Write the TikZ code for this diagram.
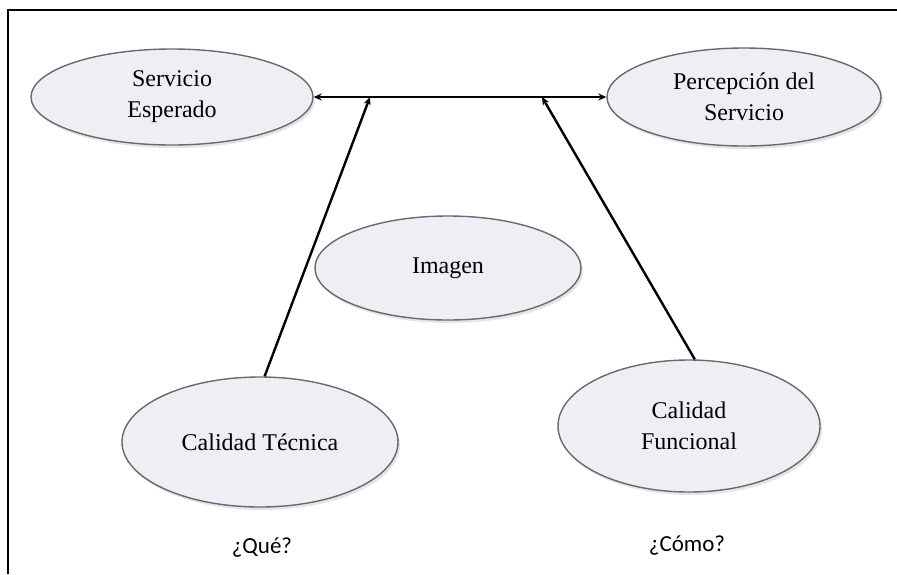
\documentclass[tikz,border=0pt]{standalone}
\usepackage{fontspec}
\setmainfont{Liberation Serif}
\newfontfamily\calibrifont{Carlito}
\usetikzlibrary{arrows.meta,shadows,shapes.geometric}
\definecolor{ellfill}{RGB}{238,239,244}
\definecolor{ellline}{RGB}{105,105,110}
\begin{document}
\begin{tikzpicture}[x=1pt,y=-1pt,
  oval/.style={ellipse,draw=ellline,line width=1.4pt,fill=ellfill,inner sep=0pt,
    align=center,font=\fontsize{24}{31}\selectfont,
    drop shadow={opacity=0.2,shadow xshift=2pt,shadow yshift=-3pt}},
  conn/.style={line width=2.4pt,black},
  tip/.style={-{Stealth[length=8pt,width=7pt]}},
  qlabel/.style={font=\calibrifont\fontsize{23}{27}\selectfont,inner sep=0pt}]
\useasboundingbox (0,0) rectangle (897,574);
\fill[white] (0,0) rectangle (897,574);
\draw[line width=2.4pt] (8,574) -- (8,10) -- (897,10);
\node[oval,minimum width=282pt,minimum height=96pt] (se) at (172,97) {Servicio\\Esperado};
\node[oval,minimum width=274pt,minimum height=98pt] (ps) at (744,97) {Percepción del\\Servicio};
\node[oval,minimum width=266pt,minimum height=104pt] (im) at (448,268) {Imagen};
\node[oval,minimum width=276pt,minimum height=130pt] (ct) at (260,442) {Calidad Técnica};
\node[oval,minimum width=262pt,minimum height=132pt] (cf) at (689,426) {Calidad\\Funcional};
\node[qlabel] (qq) at (262,548) {¿Qué?};
\node[qlabel] (qc) at (687,546) {¿Cómo?};
\coordinate (t1) at (370,97);
\coordinate (t2) at (542,97);
\draw[conn,{Stealth[length=8pt,width=7pt]}-{Stealth[length=8pt,width=7pt]}] (se.east) -- (ps.west);
\draw[conn,tip] (ct.86) -- (t1);
\draw[conn,tip] (cf.85) -- (t2);
\end{tikzpicture}
\end{document}
